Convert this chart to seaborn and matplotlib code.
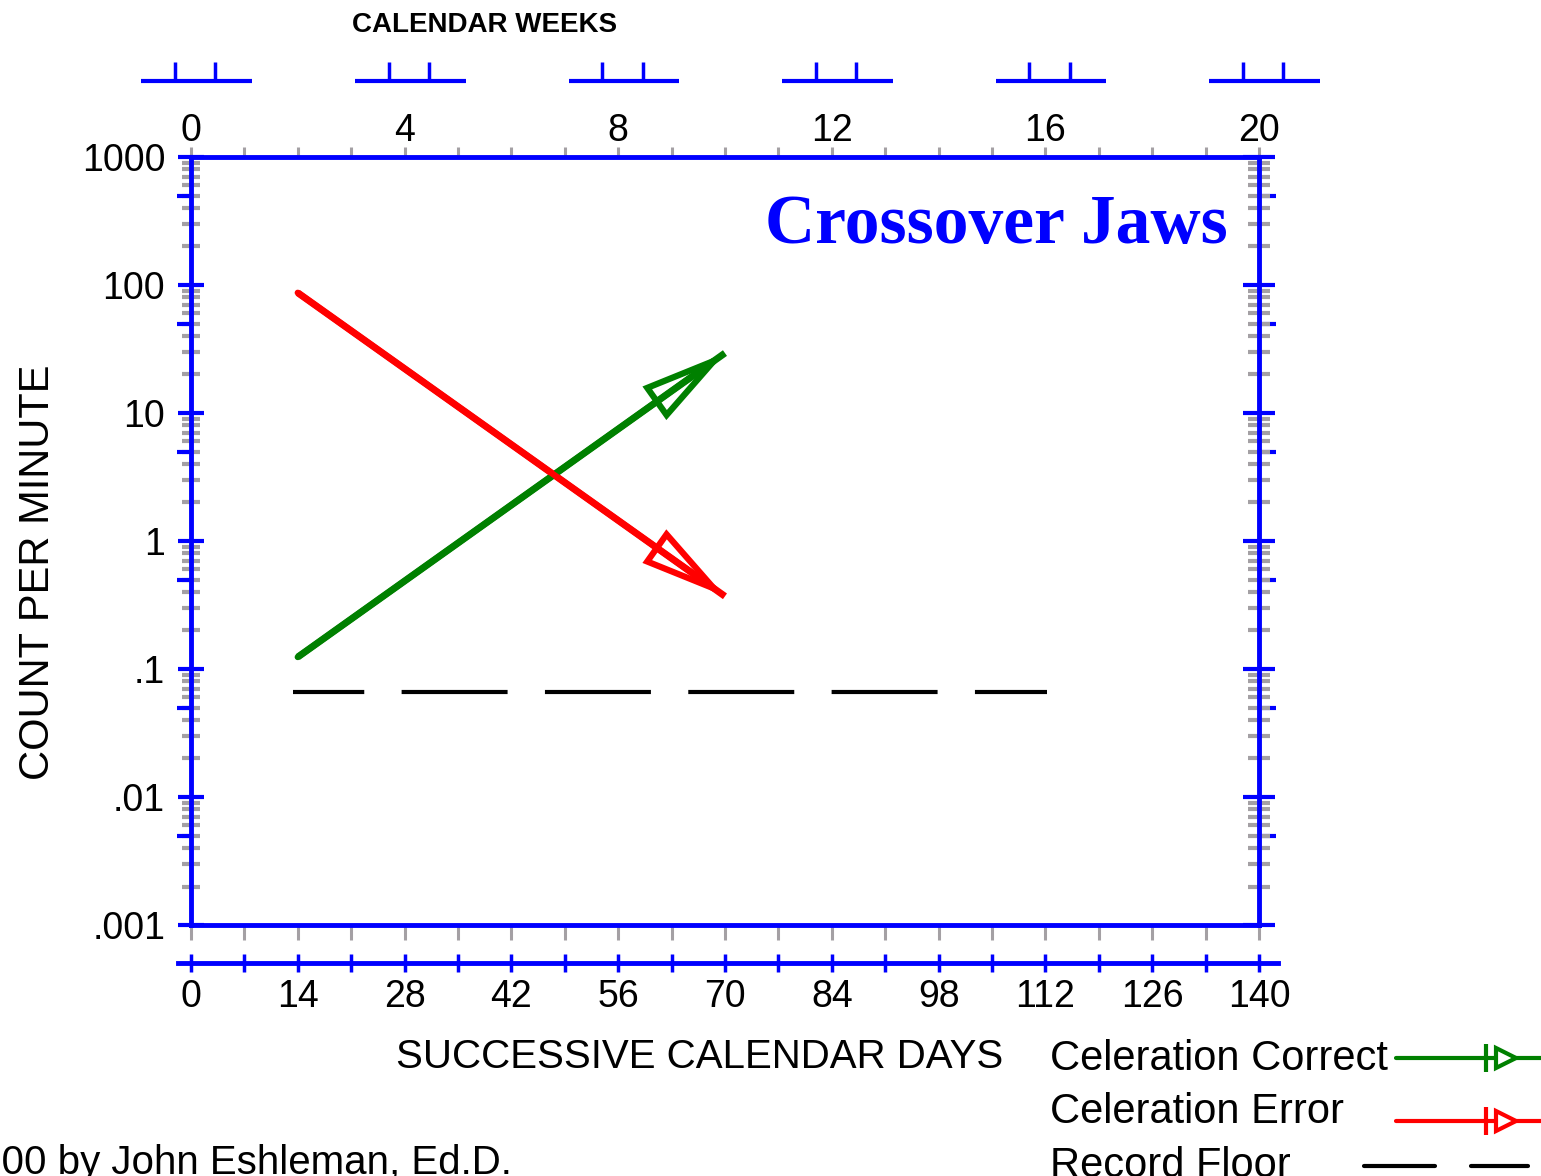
import matplotlib
matplotlib.use('Agg')
import matplotlib.pyplot as plt
from matplotlib.lines import Line2D
from matplotlib.ticker import FuncFormatter
import seaborn as sns

# celeration lines (day, count per minute)
days_correct = [14, 70]
rate_correct = [0.124, 29.4]
days_error = [14, 70]
rate_error = [87, 0.37]
# record floor
floor_days = [13.4, 112.2]
floor_rate = [0.066, 0.066]

day_ticks = list(range(0, 141, 7))
week_marks = [0, 4, 8, 12, 16, 20]
decades = [0.001, 0.01, 0.1, 1, 10, 100, 1000]
decade_labels = ['.001', '.01', '.1', '1', '10', '100', '1000']
minor_y = [m * d for d in decades[:-1] for m in range(2, 10)]
fives = [5 * d for d in decades[:-1]]

BLUE = '#0000FF'
GRAY = '#A4A0A4'
GREEN = '#008000'
RED = '#FF0000'

sns.set_theme(style='white')
plt.rcParams['font.family'] = ['Liberation Sans', 'DejaVu Sans']
plt.rcParams['lines.scale_dashes'] = False
plt.rcParams['text.color'] = 'black'
plt.rcParams['xtick.labelcolor'] = 'black'
plt.rcParams['ytick.labelcolor'] = 'black'

fig = plt.figure(figsize=(15.41, 11.76), dpi=100)
ax = fig.add_axes([0.1239, 0.2134, 0.6931, 0.6531])
ax.set_yscale('log')
ax.set_xlim(0, 140)
ax.set_ylim(0.001, 1000)

sns.lineplot(x=days_correct, y=rate_correct, ax=ax, color=GREEN, lw=5, solid_capstyle='butt')
sns.lineplot(x=days_error, y=rate_error, ax=ax, color=RED, lw=5, solid_capstyle='butt')
sns.lineplot(x=floor_days, y=floor_rate, ax=ax, color='black', lw=3,
             linestyle=(25, (76.3, 26.9)))

arrow_style = '-|>,head_length=4.2,head_width=1.0'
for xs, ys, c in [(days_correct, rate_correct, GREEN), (days_error, rate_error, RED)]:
    ax.annotate('', xy=(xs[1], ys[1]), xytext=(xs[0], ys[0]),
                arrowprops=dict(arrowstyle=arrow_style, color=c, lw=4.5, fc='none',
                                shrinkA=0, shrinkB=0, joinstyle='miter'))

# frame
for s in ['left', 'bottom']:
    ax.spines[s].set_color(BLUE)
    ax.spines[s].set_linewidth(3.5)
    ax.spines[s].set_zorder(3)
ax.spines['top'].set_visible(False)
ax.spines['right'].set_visible(False)

# left y ticks
ax.set_yticks(decades, decade_labels)
ax.set_yticks(minor_y, minor=True)
ax.yaxis.set_minor_formatter(FuncFormatter(lambda v, p: ''))
ax.tick_params(axis='y', which='major', direction='inout', length=19, width=3,
               color=BLUE, labelsize=27, pad=9, labelcolor='black')
ax.tick_params(axis='y', which='minor', direction='inout', length=12.5, width=3, color=GRAY)
for f in fives:
    ax.plot([-0.013, 0], [f, f], transform=ax.get_yaxis_transform(), color=BLUE,
            lw=3, clip_on=False, solid_capstyle='butt')
    ax.plot([1, 1.016], [f, f], transform=ax.get_yaxis_transform(), color=BLUE,
            lw=3, clip_on=False, solid_capstyle='butt', zorder=4)

# right y ticks
ax2 = ax.twinx()
ax2.set_yscale('log')
ax2.set_ylim(0.001, 1000)
ax2.set_yticks(decades, [''] * len(decades))
ax2.set_yticks(minor_y, minor=True)
ax2.yaxis.set_minor_formatter(FuncFormatter(lambda v, p: ''))
ax2.tick_params(axis='y', which='major', direction='inout', length=23, width=3, color=BLUE)
ax2.tick_params(axis='y', which='minor', direction='inout', length=16.5, width=3, color=GRAY)
for s in ['left', 'top', 'bottom']:
    ax2.spines[s].set_visible(False)
ax2.spines['right'].set_color(BLUE)
ax2.spines['right'].set_linewidth(3.5)
ax2.spines['right'].set_zorder(3)
ax2.grid(False)

# bottom gray day ticks on the frame
ax.set_xticks(day_ticks)
ax.tick_params(axis='x', which='major', direction='out', length=11, width=2.2,
               color=GRAY, labelbottom=False, bottom=True, top=False)
ax.grid(False)

# top calendar weeks axis
sec_top = ax.secondary_xaxis('top')
sec_top.set_xticks(day_ticks)
sec_top.xaxis.set_major_formatter(
    FuncFormatter(lambda d, p: str(int(round(d / 7))) if round(d) % 28 == 0 else ''))
sec_top.tick_params(axis='x', direction='out', length=7.5, width=2.2, color=GRAY,
                    labelsize=27, pad=-1.5, labelcolor='black')
sec_top.spines['top'].set_color(BLUE)
sec_top.spines['top'].set_linewidth(3.5)

# lower successive days axis
sec_bot = ax.secondary_xaxis(-0.0495)
sec_bot.set_xticks(day_ticks)
sec_bot.xaxis.set_major_formatter(
    FuncFormatter(lambda d, p: str(int(round(d))) if round(d) % 14 == 0 else ''))
sec_bot.tick_params(axis='x', direction='inout', length=12.5, width=2.5, color=BLUE,
                    labelsize=27, pad=5, labelcolor='black')
sec_bot.spines['bottom'].set_color(BLUE)
sec_bot.spines['bottom'].set_linewidth(3.5)
sec_bot.spines['bottom'].set_bounds(-1.7, 142.5)

fig.canvas.draw()
for axis_obj in [ax.xaxis, sec_top.xaxis]:
    ticks = axis_obj.get_major_ticks()
    for t in (ticks[0], ticks[-1]):
        t.tick1line.set_color(BLUE)
        t.tick2line.set_color(BLUE)

# week brackets above the chart
trans = ax.get_xaxis_transform()
for w in week_marks:
    d = 7 * w
    ax.plot([d - 6.5, d + 8], [1.099, 1.099], transform=trans, color=BLUE, lw=3,
            clip_on=False, solid_capstyle='butt')
    for off in (-2.1, 3.2):
        ax.plot([d + off, d + off], [1.099, 1.124], transform=trans, color=BLUE, lw=2.5,
                clip_on=False, solid_capstyle='butt')

# texts
fig.text(485 / 1541, 1 - 25 / 1176, 'CALENDAR WEEKS', ha='center', va='center',
         fontsize=20, fontweight='bold', color='black')
fig.text(1228 / 1541, 1 - 226 / 1176, 'Crossover Jaws', ha='right', va='center',
         fontsize=50, fontweight='bold', color=BLUE, family='Liberation Serif')
fig.text(700 / 1541, 1 - 1057 / 1176, 'SUCCESSIVE CALENDAR DAYS', ha='center', va='center',
         fontsize=29, color='black')
fig.text(38 / 1541, 1 - 572 / 1176, 'COUNT PER MINUTE', ha='center', va='center',
         rotation=90, fontsize=30, color='black')
fig.text(512 / 1541, 1 - 1174 / 1176, '\u00a92000 by John Eshleman, Ed.D.', ha='right',
         va='baseline', fontsize=29, color='black')

# legend
legend_items = ['Celeration Correct', 'Celeration Error', 'Record Floor']
legend_base = [1070, 1123, 1177]
for name, yb in zip(legend_items, legend_base):
    fig.text(1050 / 1541, 1 - yb / 1176, name, ha='left', va='baseline', fontsize=30,
             color='black')

for c, yl in [(GREEN, 1058), (RED, 1121)]:
    yf = 1 - yl / 1176
    fig.add_artist(Line2D([1396 / 1541, 1541 / 1541], [yf, yf], color=c, lw=3,
                          transform=fig.transFigure))
    fig.add_artist(Line2D([1486 / 1541], [yf], marker='|', markersize=20, mew=3,
                          color=c, transform=fig.transFigure))
    fig.add_artist(Line2D([1506 / 1541], [yf], marker='>', markersize=14, mew=3,
                          mfc='white', mec=c, transform=fig.transFigure))
yf = 1 - 1166 / 1176
fig.add_artist(Line2D([1364 / 1541, 1435 / 1541], [yf, yf], color='black', lw=3,
                      transform=fig.transFigure))
fig.add_artist(Line2D([1471 / 1541, 1528 / 1541], [yf, yf], color='black', lw=3,
                      transform=fig.transFigure))

fig.savefig('out.png', dpi=100)
